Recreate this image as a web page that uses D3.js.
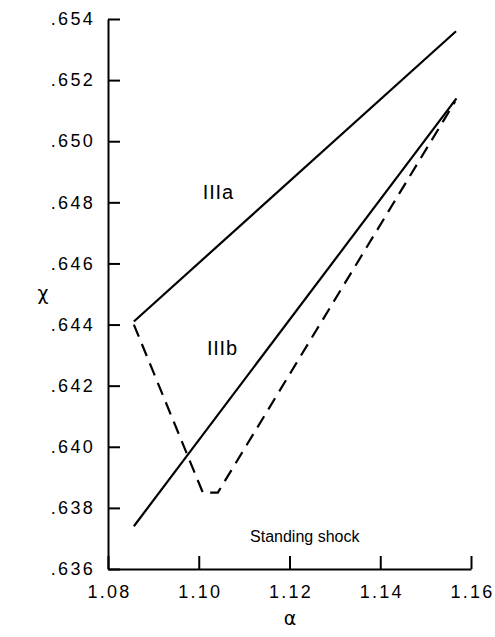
<!DOCTYPE html>
<html><head><meta charset="utf-8">
<script src="https://cdn.jsdelivr.net/npm/d3@7"></script>
<style>body{margin:0;background:#fff}svg{display:block}</style>
</head><body>
<svg id="c" width="495" height="637"></svg>
<script>
const xTicks = [1.08, 1.10, 1.12, 1.14, 1.16];
const yTicks = [0.636, 0.638, 0.640, 0.642, 0.644, 0.646, 0.648, 0.650, 0.652, 0.654];
const lineIIIa = [[1.0857, 0.6441], [1.1567, 0.6536]];
const lineIIIb = [[1.0857, 0.6374], [1.1568, 0.6514]];
const standingShock = [[1.0857, 0.6440], [1.1009, 0.6385], [1.1042, 0.6385], [1.1565, 0.6513]];
const labels = [
  {text: "IIIa", x: 1.1009, y: 0.6481},
  {text: "IIIb", x: 1.1018, y: 0.6430},
  {text: "Standing shock", x: 1.1113, y: 0.6369}
];

const svg = d3.select("#c");
const x = d3.scaleLinear().domain([1.08, 1.16]).range([108, 471]);
const y = d3.scaleLinear().domain([0.636, 0.654]).range([569, 19]);
const font = "'Liberation Sans', Arial, Helvetica, sans-serif";

const xAxis = svg.append("g").attr("transform", "translate(0,569)")
  .call(d3.axisBottom(x).tickValues(xTicks).tickSize(-13).tickPadding(16).tickSizeOuter(0)
    .tickFormat(d3.format(".2f")));
const yAxis = svg.append("g").attr("transform", "translate(108,0)")
  .call(d3.axisLeft(y).tickValues(yTicks).tickSize(-12).tickPadding(13).tickSizeOuter(0)
    .tickFormat(d => d3.format(".3f")(d).replace(/^0/, "")));
[xAxis, yAxis].forEach(g => {
  g.attr("font-size", null).attr("font-family", null);
  g.selectAll("path").attr("stroke", "#000").attr("stroke-width", 2);
  g.selectAll("line").attr("stroke", "#000").attr("stroke-width", 2);
  g.selectAll("text").attr("fill", "#000").attr("font-family", font)
    .style("font-size", "18px").style("letter-spacing", "2.3px");
});
xAxis.selectAll("text").attr("dy", "0.71em").attr("dx", "1px");

const line = d3.line().x(d => x(d[0])).y(d => y(d[1]));
svg.append("path").datum(lineIIIa).attr("d", line).attr("fill", "none").attr("stroke", "#000").attr("stroke-width", 2.2);
svg.append("path").datum(lineIIIb).attr("d", line).attr("fill", "none").attr("stroke", "#000").attr("stroke-width", 2.2);
svg.append("path").datum(standingShock).attr("d", line).attr("fill", "none").attr("stroke", "#000")
  .attr("stroke-width", 2.2).attr("stroke-dasharray", "13,8");

svg.selectAll("text.lab").data(labels).enter().append("text").attr("class", "lab")
  .attr("x", d => x(d.x)).attr("y", d => y(d.y))
  .attr("font-family", font)
  .style("font-size", d => d.text === "Standing shock" ? "16px" : "20px")
  .style("letter-spacing", d => d.text === "Standing shock" ? "0px" : "0.8px")
  .attr("fill", "#000").text(d => d.text);

svg.append("text").attr("x", 43).attr("y", 300).attr("text-anchor", "middle")
  .attr("font-family", "'DejaVu Sans', sans-serif").style("font-size", "19px").text("χ");
svg.append("text").attr("x", 290).attr("y", 625).attr("text-anchor", "middle")
  .attr("font-family", "'DejaVu Sans', sans-serif").style("font-size", "19px").text("α");
</script>
</body></html>
